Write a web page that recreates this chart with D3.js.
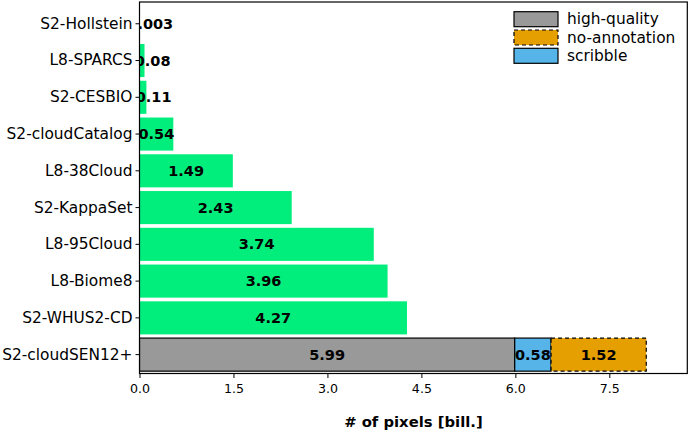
<!DOCTYPE html>
<html>
<head>
<meta charset="utf-8">
<script src="https://cdn.jsdelivr.net/npm/d3@7"></script>
<style>
  html, body { margin: 0; padding: 0; background: #fff; }
  svg { display: block; font-family: "DejaVu Sans", sans-serif; }
</style>
</head>
<body>
<svg id="chart" width="690" height="432"></svg>
<script>
// ---- data ----
const categories = ["S2-Hollstein", "L8-SPARCS", "S2-CESBIO", "S2-cloudCatalog", "L8-38Cloud",
                    "S2-KappaSet", "L8-95Cloud", "L8-Biome8", "S2-WHUS2-CD", "S2-cloudSEN12+"];
const totalPixels = [0.003, 0.08, 0.11, 0.54, 1.49, 2.43, 3.74, 3.96, 4.27, null];
const stackCategory = "S2-cloudSEN12+";
const stackKeys = ["high-quality", "scribble", "no-annotation"];
const stackValues = [5.99, 0.58, 1.52];
const legendOrder = ["high-quality", "no-annotation", "scribble"];
const xTicks = [0, 1.5, 3, 4.5, 6, 7.5];
const xMax = 8.745;

// ---- styles ----
const colors = { "high-quality": "#999999", "scribble": "#56b4e9", "no-annotation": "#e69f00" };
const dashed = { "high-quality": false, "scribble": false, "no-annotation": true };
const green = "#02ee7c";

const svg = d3.select("#chart");
const plot = { left: 139.5, right: 687.3, top: 2, bottom: 373.5 };

const x = d3.scaleLinear().domain([0, xMax]).range([plot.left, plot.right]);
const y = d3.scaleBand().domain(categories).range([5.4, 373]).paddingInner(0.1).paddingOuter(0.05);

svg.append("defs").append("clipPath").attr("id", "clip")
  .append("rect").attr("x", plot.left).attr("y", plot.top)
  .attr("width", plot.right - plot.left).attr("height", plot.bottom - plot.top);

const g = svg.append("g").attr("clip-path", "url(#clip)");

// single bars
const singles = categories.map((c, i) => ({ c, v: totalPixels[i] })).filter(d => d.v != null);
g.selectAll("rect.single").data(singles).enter().append("rect")
  .attr("class", "single")
  .attr("x", x(0)).attr("y", d => y(d.c))
  .attr("width", d => x(d.v) - x(0)).attr("height", y.bandwidth())
  .attr("fill", green);

// stacked bar
let acc = 0;
const stack = stackKeys.map((k, i) => { const s = { k, x0: acc, x1: acc + stackValues[i], v: stackValues[i] }; acc += stackValues[i]; return s; });
g.selectAll("rect.stack").data(stack).enter().append("rect")
  .attr("class", "stack")
  .attr("x", d => x(d.x0)).attr("y", y(stackCategory))
  .attr("width", d => x(d.x1) - x(d.x0)).attr("height", y.bandwidth())
  .attr("fill", d => colors[d.k])
  .attr("stroke", "#000").attr("stroke-width", 1.2)
  .attr("stroke-dasharray", d => dashed[d.k] ? "4,3" : null);

// value labels
const labelFont = 14.5;
g.selectAll("text.single").data(singles).enter().append("text")
  .attr("class", "single")
  .attr("x", d => x(d.v < 0.5 ? d.v / 2 + 0.17 : d.v / 2))
  .attr("y", d => y(d.c) + y.bandwidth() / 2)
  .attr("text-anchor", "middle").attr("dominant-baseline", "central")
  .attr("font-size", labelFont).attr("font-weight", "bold").attr("fill", "#000")
  .text(d => String(d.v));
g.selectAll("text.stack").data(stack).enter().append("text")
  .attr("class", "stack")
  .attr("x", d => x((d.x0 + d.x1) / 2))
  .attr("y", y(stackCategory) + y.bandwidth() / 2)
  .attr("text-anchor", "middle").attr("dominant-baseline", "central")
  .attr("font-size", labelFont).attr("font-weight", "bold").attr("fill", "#000")
  .text(d => String(d.v));

// axes
const xAxis = svg.append("g").attr("transform", `translate(0,${plot.bottom})`)
  .call(d3.axisBottom(x).tickValues(xTicks).tickFormat(d3.format(".1f")).tickSize(4.5).tickSizeOuter(0).tickPadding(6));
xAxis.select(".domain").remove();
xAxis.selectAll("text").attr("font-size", 12.6).attr("font-family", "DejaVu Sans").attr("fill", "#000");
xAxis.selectAll("line").attr("stroke", "#000").attr("stroke-width", 1);

const yAxis = svg.append("g").attr("transform", `translate(${plot.left},0)`)
  .call(d3.axisLeft(y).tickSize(4).tickSizeOuter(0).tickPadding(3));
yAxis.select(".domain").remove();
yAxis.selectAll("text").attr("font-size", 15.4).attr("font-family", "DejaVu Sans").attr("fill", "#000");
yAxis.selectAll("line").attr("stroke", "#000").attr("stroke-width", 1);

// frame
svg.append("rect").attr("x", plot.left).attr("y", plot.top)
  .attr("width", plot.right - plot.left).attr("height", plot.bottom - plot.top)
  .attr("fill", "none").attr("stroke", "#000").attr("stroke-width", 1.2);

// x label
svg.append("text").attr("x", (plot.left + plot.right) / 2).attr("y", 427)
  .attr("text-anchor", "middle").attr("font-size", 14.8).attr("font-weight", "bold")
  .attr("fill", "#000").text("# of pixels [bill.]");

// legend
const leg = svg.append("g");
legendOrder.forEach((k, i) => {
  const yy = 11.7 + i * 18.3;
  leg.append("rect").attr("x", 514).attr("y", yy).attr("width", 44).attr("height", 15)
    .attr("fill", colors[k]).attr("stroke", "#000").attr("stroke-width", 1.2)
    .attr("stroke-dasharray", dashed[k] ? "4,3" : null);
  leg.append("text").attr("x", 567).attr("y", yy + 7.5).attr("dominant-baseline", "central")
    .attr("font-size", 15.4).attr("fill", "#000").text(k);
});
</script>
</body>
</html>
